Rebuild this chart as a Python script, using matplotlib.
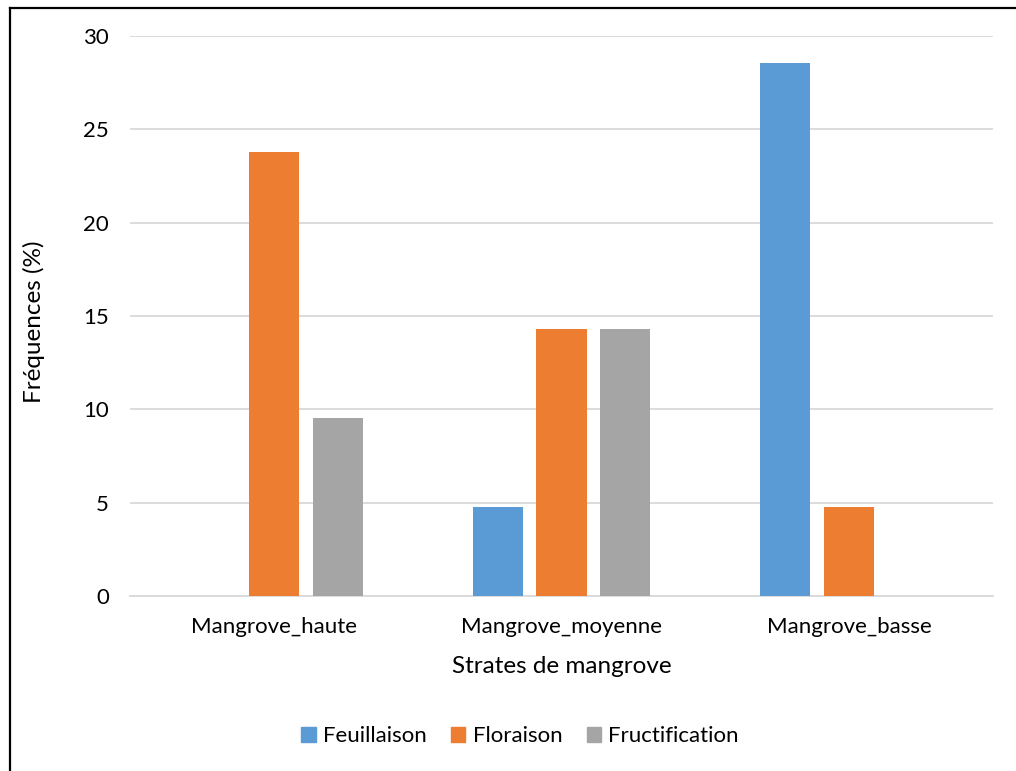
import matplotlib
matplotlib.use("Agg")
import matplotlib.pyplot as plt
from matplotlib.lines import Line2D
import numpy as np

plt.rcParams['font.family'] = ['Lato', 'DejaVu Sans']

categories = ["Mangrove_haute", "Mangrove_moyenne", "Mangrove_basse"]
series_names = ["Feuillaison", "Floraison", "Fructification"]
feuillaison = [0.0, 4.76, 28.57]
floraison = [23.81, 14.29, 4.76]
fructification = [9.52, 14.29, 0.0]
colors = ["#5B9BD5", "#ED7D31", "#A5A5A5"]
y_ticks = [0, 5, 10, 15, 20, 25, 30]

W, H = 1016, 771
fig = plt.figure(figsize=(W / 100, H / 100), dpi=100)
ax = fig.add_axes([130 / W, 1 - 596 / H, (993 - 130) / W, (596 - 36) / H])

x = np.arange(len(categories))
bar_w = 0.174
step = 0.222
for i, (name, vals, col) in enumerate(zip(series_names,
                                          [feuillaison, floraison, fructification],
                                          colors)):
    ax.bar(x + (i - 1) * step, vals, width=bar_w, color=col, label=name, zorder=3)

ax.set_xlim(-0.5, len(categories) - 0.5)
ax.set_ylim(0, 30)
ax.set_yticks(y_ticks)
ax.set_yticklabels([str(t) for t in y_ticks], fontsize=16)
ax.set_xticks(x)
ax.set_xticklabels(categories, fontsize=16)
ax.tick_params(axis='both', length=0, colors='#000000')
ax.tick_params(axis='y', pad=15)
ax.tick_params(axis='x', pad=15)
ax.grid(axis='y', color='#D9D9D9', linewidth=1.3, zorder=0)
for s in ['top', 'right', 'left']:
    ax.spines[s].set_visible(False)
ax.spines['bottom'].set_color('#D9D9D9')
ax.spines['bottom'].set_linewidth(1.3)

ax.set_ylabel("Fréquences (%)", fontsize=17.5)
ax.yaxis.set_label_coords(-0.0985, 0.49)
ax.set_xlabel("Strates de mangrove", fontsize=17.5, labelpad=14)

handles = [plt.Rectangle((0, 0), 1, 1, color=c) for c in colors]
fig.legend(handles, series_names, loc='center', bbox_to_anchor=(520 / W, 1 - 736 / H),
           ncol=3, frameon=False, fontsize=16, handlelength=0.65, handleheight=0.65,
           handletextpad=0.32, columnspacing=1.1)

# outer frame (top and left edges)
fig.add_artist(Line2D([9.5 / W, 1], [1 - 7.5 / H, 1 - 7.5 / H], color='black', linewidth=1.6))
fig.add_artist(Line2D([9.5 / W, 9.5 / W], [0, 1 - 7.5 / H], color='black', linewidth=1.6))

fig.savefig("out.png", dpi=100, facecolor='white')
